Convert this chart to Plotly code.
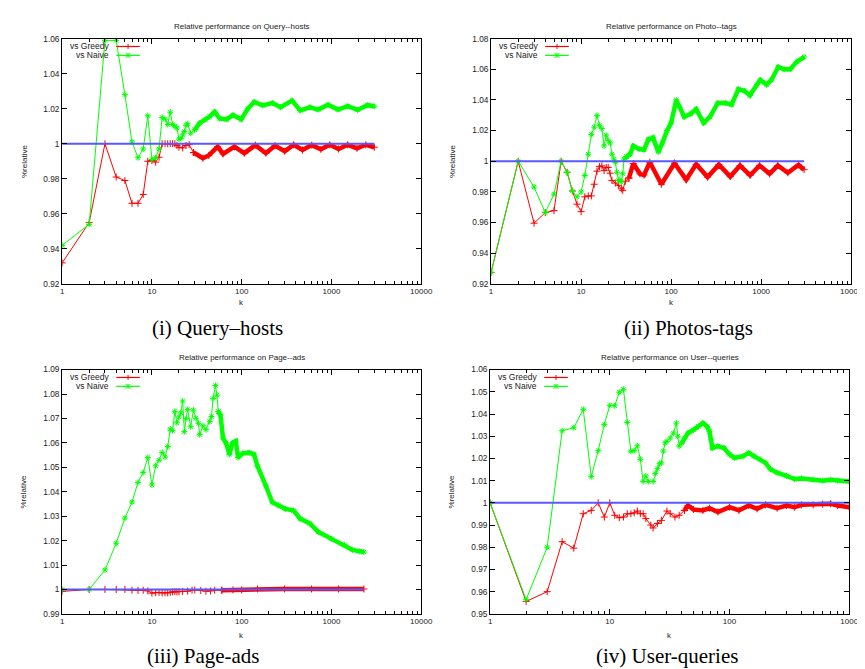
import plotly.graph_objects as go

W, H = 865, 669

# ---------------- data ----------------
# (i) Query--hosts
qh_greedy_k = [1, 2, 3, 4, 5, 6, 7, 8, 9, 10, 11, 12, 13, 14, 15, 16, 17, 18, 19, 20, 22, 24, 26,
               29, 37, 43, 54, 62, 83, 107, 142, 186, 235, 302, 379, 476, 603, 762, 957, 1200,
               1518, 1925, 2415, 3000]
qh_greedy_v = [0.932, 0.955, 1.000, 0.981, 0.979, 0.966, 0.966, 0.971, 0.990, 0.9904, 0.9895, 0.9923,
               1.000, 1.000, 1.000, 1.000, 1.000, 1.000, 0.999, 0.998, 0.9976, 0.999, 0.9995,
               0.995, 0.9917, 0.9933, 0.9983, 0.9942, 0.9983, 0.9946, 0.9992, 0.9946, 0.9989, 0.9957,
               0.9994, 0.9964, 0.9992, 0.9968, 0.9994, 0.997, 0.9994, 0.9974, 0.9994, 0.998]
qh_naive_k = [1, 2, 3, 4, 5, 6, 7, 8, 9, 10, 11, 12, 13, 14, 15, 16, 17, 18, 19, 20, 21, 22, 23, 24,
              25, 27, 30, 34, 39, 44, 50, 57, 68, 80, 99, 117, 138, 171, 220, 271, 364, 449, 577,
              713, 917, 1180, 1518, 1954, 2516, 3000]
qh_naive_v = [0.942, 0.954, 1.059, 1.059, 1.028, 1.001, 0.992, 0.997, 1.016, 0.991, 0.992, 0.997,
              1.015, 1.014, 1.011, 1.018, 1.011, 1.010, 1.009, 1.0026, 1.003, 1.005, 1.007, 1.0105,
              1.0114, 1.006, 1.008, 1.0118, 1.0137, 1.0155, 1.0182, 1.0144, 1.0139, 1.0163, 1.0139,
              1.020, 1.0238, 1.0219, 1.0232, 1.0208, 1.0246, 1.019, 1.0208, 1.0195, 1.0223, 1.0195,
              1.0214, 1.0193, 1.022, 1.0214]

# (ii) Photos-tags
pt_greedy_k = [1, 2, 3, 4, 5, 6, 7, 8, 9, 10, 11, 12, 13, 14, 15, 16, 17, 18, 19, 20, 21, 22, 24, 26,
               28, 29, 31, 34, 38, 45, 50, 58, 78, 109, 147, 190, 254, 339, 454, 583, 754, 962,
               1240, 1530, 1980, 2600, 3000]
pt_greedy_v = [0.9275, 1.000, 0.9596, 0.9665, 0.9678, 1.000, 0.9928, 0.9806, 0.972, 0.9671, 0.9768,
               0.9774, 0.9774, 0.985, 0.9935, 0.9965, 0.997, 0.9939, 0.996, 0.996, 0.9922, 0.9875,
               0.9858, 0.9843, 0.982, 0.981, 0.987, 0.989, 0.9985, 0.9918, 0.991, 0.9994, 0.985,
               0.9987, 0.988, 0.998, 0.9897, 0.9978, 0.990, 0.9972, 0.9908, 0.9972, 0.9918, 0.9972,
               0.9925, 0.9976, 0.9945]
pt_naive_k = [1, 2, 3, 4, 5, 6, 7, 8, 9, 10, 11, 12, 13, 14, 15, 16, 17, 18, 19, 20, 21, 22, 23, 24,
              25, 26, 27, 28, 29, 30, 31, 32, 35, 38, 44, 50, 56, 63, 72, 80, 90, 100, 114, 125,
              140, 165, 190, 230, 270, 330, 400, 470, 560, 650, 750, 900, 980, 1150, 1300, 1550,
              1800, 2100, 2500, 3000]
pt_naive_v = [0.9275, 1.000, 0.9832, 0.9665, 0.9785, 1.000, 0.9928, 0.9806, 0.9768, 0.980, 0.9907,
              1.0046, 1.0175, 1.0222, 1.0299, 1.0234, 1.0213, 1.010, 1.017, 1.0136, 1.012, 1.0046,
              1.0014, 0.9993, 0.9928, 0.9875, 0.988, 0.9864, 0.9918, 1.0014, 1.002, 1.003, 1.0046,
              1.010, 1.008, 1.0075, 1.0143, 1.0154, 1.006, 1.012, 1.020, 1.025, 1.040, 1.035, 1.029,
              1.031, 1.034, 1.025, 1.029, 1.038, 1.038, 1.037, 1.047, 1.046, 1.043, 1.050, 1.053,
              1.050, 1.053, 1.0615, 1.060, 1.060, 1.065, 1.068]

# (iii) Page-ads
pa_greedy_k = [1, 2, 3, 4, 5, 6, 7, 8, 9, 10, 11, 12, 13, 14, 15, 16, 17, 18, 19, 20, 22, 25, 28, 30,
               35, 40, 45, 50, 60, 80, 100, 150, 300, 600, 1200, 2300]
pa_greedy_v = [0.9992, 1.000, 1.000, 1.000, 1.000, 0.9997, 0.9996, 0.9997, 0.9994, 0.9985, 0.9987,
               0.9988, 0.9986, 0.9986, 0.9986, 0.9988, 0.9990, 0.9991, 0.9990, 0.9991, 0.9992, 0.9993,
               0.9997, 0.9998, 0.9996, 0.9993, 0.9994, 0.9997, 0.9997, 0.9998, 0.9998, 1.0002, 1.0002,
               1.0002, 1.0002, 1.0002]
pa_naive_k = [1, 2, 3, 4, 5, 6, 7, 8, 9, 10, 11, 12, 13, 14, 15, 16, 17, 18, 19, 20, 21, 22, 23, 24,
              25, 27, 29, 31, 33, 34, 37, 40, 44, 46, 48, 51, 53, 55, 58, 62, 67, 73, 79, 86, 91,
              103, 121, 137, 150, 186, 219, 257, 307, 378, 448, 575, 713, 1000, 1400, 1720, 2040, 2300]
pa_naive_v = [1.000, 1.000, 1.008, 1.0189, 1.0292, 1.0358, 1.0438, 1.0479, 1.054, 1.0428, 1.0506,
              1.0529, 1.0561, 1.0542, 1.0585, 1.0657, 1.065, 1.0729, 1.0682, 1.0706, 1.0723, 1.0771,
              1.0646, 1.070, 1.0737, 1.0666, 1.0734, 1.0701, 1.068, 1.0634, 1.067, 1.0654, 1.0687,
              1.0708, 1.0782, 1.0835, 1.0795, 1.0728, 1.0714, 1.0619, 1.060, 1.0553, 1.060, 1.0607,
              1.054, 1.0557, 1.056, 1.0553, 1.0505, 1.0424, 1.0357, 1.0344, 1.033, 1.0323, 1.029,
              1.027, 1.0236, 1.0207, 1.0182, 1.0162, 1.0156, 1.0153]

# (iv) User-queries
uq_greedy_k = [1, 2, 3, 4, 5, 6, 7, 8, 9, 10, 11, 12, 13, 14, 15, 16, 17, 18, 19, 20, 22, 23, 25, 27,
               30, 32, 35, 38, 42, 45, 50, 60, 68, 80, 100, 120, 145, 170, 200, 250, 300, 350, 400,
               500, 600, 700, 800, 1000]
uq_greedy_v = [1.000, 0.9556, 0.960, 0.9825, 0.9796, 0.9951, 0.9966, 1.000, 0.9936, 1.000, 0.9944,
               0.9933, 0.9936, 0.9951, 0.9951, 0.9955, 0.9963, 0.9951, 0.9951, 0.9929, 0.990, 0.9887,
               0.9907, 0.9921, 0.9963, 0.9951, 0.9936, 0.9944, 0.9966, 0.9988, 0.997, 0.9966, 0.9976,
               0.9959, 0.9981, 0.9966, 0.9988, 0.9973, 0.9991, 0.9976, 0.9988, 0.998, 0.9991, 0.9991,
               0.9994, 0.9996, 0.9988, 0.998]
uq_naive_k = [1, 2, 3, 4, 5, 6, 7, 8, 9, 10, 11, 12, 13, 14, 15, 16, 17, 18, 19, 20, 21, 23, 24, 25,
              26, 27, 28, 29, 30, 32, 34, 36, 37, 38, 40, 42, 45, 50, 55, 60, 65, 68, 70, 72, 80,
              90, 100, 110, 130, 145, 160, 180, 200, 220, 250, 300, 350, 400, 500, 600, 700, 800, 1000]
uq_naive_v = [1.000, 0.9564, 0.980, 1.0325, 1.0338, 1.0421, 1.0118, 1.0235, 1.0353, 1.0439, 1.0437,
              1.0498, 1.0511, 1.0362, 1.0232, 1.0235, 1.0257, 1.0196, 1.0096, 1.0121, 1.0096, 1.0096,
              1.0132, 1.0154, 1.0176, 1.018, 1.0233, 1.027, 1.0277, 1.0292, 1.0314, 1.0359, 1.030,
              1.0255, 1.027, 1.0292, 1.0314, 1.0329, 1.0344, 1.0359, 1.0344, 1.0321, 1.0284, 1.0247,
              1.0255, 1.0247, 1.0218, 1.0203, 1.021, 1.0225, 1.021, 1.0196, 1.018, 1.0151, 1.0136,
              1.0121, 1.0107, 1.011, 1.0104, 1.010, 1.0104, 1.010, 1.0096]

reference_value = 1.0

titles = ["Relative performance on Query--hosts", "Relative performance on Photo--tags",
          "Relative performance on Page--ads", "Relative performance on User--queries"]
captions = ["(i) Query\u2013hosts", "(ii) Photos-tags", "(iii) Page-ads", "(iv) User-queries"]
series_names = ["vs Greedy", "vs Naive"]

x_tickvals = [1, 10, 100, 1000, 10000]
y_ticks_1 = [0.92, 0.94, 0.96, 0.98, 1.00, 1.02, 1.04, 1.06]
y_ticks_2 = [0.92, 0.94, 0.96, 0.98, 1.00, 1.02, 1.04, 1.06, 1.08]
y_ticks_3 = [0.99, 1.00, 1.01, 1.02, 1.03, 1.04, 1.05, 1.06, 1.07, 1.08, 1.09]
y_ticks_4 = [0.95, 0.96, 0.97, 0.98, 0.99, 1.00, 1.01, 1.02, 1.03, 1.04, 1.05, 1.06]

# ---------------- styling / layout ----------------
RED = "#ff0000"
GREEN = "#00ff00"
BLUE = "#5858ff"
SANS = "Liberation Sans, Arial, sans-serif"
SERIF = "Liberation Serif, Times New Roman, serif"

panels = [
    dict(g=(qh_greedy_k, qh_greedy_v), n=(qh_naive_k, qh_naive_v), yt=y_ticks_1,
         box=(53, 418, 26, 275), xr=(0, 4), dense=28, cap_x=211, cap_y=320, klab_y=294),
    dict(g=(pt_greedy_k, pt_greedy_v), n=(pt_naive_k, pt_naive_v), yt=y_ticks_2,
         box=(489, 855, 26, 275), xr=(0, 4), dense=32, cap_x=690, cap_y=320, klab_y=294),
    dict(g=(pa_greedy_k, pa_greedy_v), n=(pa_naive_k, pa_naive_v), yt=y_ticks_3,
         box=(53, 418, 362, 610), xr=(0, 4), dense=55, cap_x=197, cap_y=653, klab_y=632),
    dict(g=(uq_greedy_k, uq_greedy_v), n=(uq_naive_k, uq_naive_v), yt=y_ticks_4,
         box=(488, 853, 362, 610), xr=(0, 3), dense=40, cap_x=668, cap_y=653, klab_y=632),
]


def px(x):
    return x / W


def py(y):
    return 1 - y / H


def fmt(v):
    s = ("%.2f" % v).rstrip("0").rstrip(".")
    return s


fig = go.Figure()
shapes = []
annotations = []

for i, p in enumerate(panels, start=1):
    xa = "x" if i == 1 else f"x{i}"
    ya = "y" if i == 1 else f"y{i}"
    L, R, T, B = p["box"]
    thr = p["dense"]
    for (ks, vs), color, sym in [(p["g"], RED, "cross-thin-open"), (p["n"], GREEN, "asterisk-open")]:
        sk = [k for k in ks if k <= thr]
        sv = [v for k, v in zip(ks, vs) if k <= thr]
        dk = [k for k in ks if k >= thr]
        dv = [v for k, v in zip(ks, vs) if k >= thr]
        if dk and sk and dk[0] != sk[-1]:
            sk = sk + [dk[0]]
            sv = sv + [dv[0]]
        fig.add_trace(go.Scatter(x=sk, y=sv, mode="lines+markers", xaxis=xa, yaxis=ya,
                                 line=dict(color=color, width=1),
                                 marker=dict(symbol=sym, size=5, line=dict(color=color, width=1)),
                                 showlegend=False, hoverinfo="skip"))
        fig.add_trace(go.Scatter(x=dk, y=dv, mode="lines+markers", xaxis=xa, yaxis=ya,
                                 line=dict(color=color, width=4.5),
                                 marker=dict(symbol=sym, size=5, line=dict(color=color, width=1)),
                                 showlegend=False, hoverinfo="skip"))
    kmax = max(max(p["g"][0]), max(p["n"][0]))
    fig.add_trace(go.Scatter(x=[1, kmax], y=[reference_value, reference_value], mode="lines",
                             xaxis=xa, yaxis=ya, line=dict(color=BLUE, width=2),
                             showlegend=False, hoverinfo="skip"))

    xr = p["xr"]
    xtv = [v for v in x_tickvals if v <= 10 ** xr[1]]
    fig.layout[f"xaxis{'' if i == 1 else i}"] = dict(
        type="log", range=list(xr), domain=[px(L), px(R)], anchor=ya,
        tickvals=xtv, ticktext=[str(v) for v in xtv],
        ticks="inside", ticklen=5, tickwidth=1, tickcolor="black",
        mirror="allticks", showline=True, linecolor="black", linewidth=1,
        showgrid=False, zeroline=False,
        minor=dict(dtick="D1", ticks="inside", ticklen=3, tickcolor="black", showgrid=False),
        tickfont=dict(family=SANS, size=8, color="#222"))
    yt = p["yt"]
    fig.layout[f"yaxis{'' if i == 1 else i}"] = dict(
        range=[yt[0], yt[-1]], domain=[py(B), py(T)], anchor=xa,
        tickvals=yt, ticktext=[fmt(v) for v in yt],
        ticks="inside", ticklen=5, tickwidth=1, tickcolor="black",
        mirror="allticks", showline=True, linecolor="black", linewidth=1,
        showgrid=False, zeroline=False,
        tickfont=dict(family=SANS, size=8.3, color="#222"))

    cx = (L + R) / 2
    annotations.append(dict(text=titles[i - 1], x=px(cx), y=py(T - 12), xref="paper", yref="paper",
                            showarrow=False, font=dict(family=SANS, size=8, color="#222"),
                            xanchor="center", yanchor="middle"))
    annotations.append(dict(text="k", x=px(cx), y=py(p["klab_y"]), xref="paper", yref="paper",
                            showarrow=False, font=dict(family=SANS, size=8, color="#222"),
                            xanchor="center", yanchor="middle"))
    annotations.append(dict(text="%relative", x=px(L - 39), y=py((T + B) / 2), xref="paper",
                            yref="paper", showarrow=False, textangle=-90,
                            font=dict(family=SANS, size=8, color="#222"),
                            xanchor="center", yanchor="middle"))
    annotations.append(dict(text=captions[i - 1], x=px(p["cap_x"]), y=py(p["cap_y"]), xref="paper",
                            yref="paper", showarrow=False, font=dict(family=SERIF, size=21, color="black"),
                            xanchor="center", yanchor="middle"))

    # gnuplot-style key: text, then line sample with point
    for j, (name, color) in enumerate(zip(series_names, [RED, GREEN])):
        ly = T + 8 + 9 * j
        annotations.append(dict(text=name, x=px(L + 50), y=py(ly), xref="paper", yref="paper",
                                showarrow=False, font=dict(family=SANS, size=8.5, color="#222"),
                                xanchor="right", yanchor="middle"))
        shapes.append(dict(type="line", xref="paper", yref="paper", x0=px(L + 55), x1=px(L + 79),
                           y0=py(ly), y1=py(ly), line=dict(color=color, width=1.2)))
        mx = L + 67
        shapes.append(dict(type="line", xref="paper", yref="paper", x0=px(mx), x1=px(mx),
                           y0=py(ly - 2.5), y1=py(ly + 2.5), line=dict(color=color, width=1)))
        if j == 1:
            for s in (1, -1):
                shapes.append(dict(type="line", xref="paper", yref="paper", x0=px(mx - 2.5),
                                   x1=px(mx + 2.5), y0=py(ly - 2.5 * s), y1=py(ly + 2.5 * s),
                                   line=dict(color=color, width=1)))

fig.update_layout(width=W, height=H, margin=dict(l=0, r=0, t=0, b=0),
                  paper_bgcolor="white", plot_bgcolor="white",
                  shapes=shapes, annotations=annotations, showlegend=False)

fig.write_html("out.html")
